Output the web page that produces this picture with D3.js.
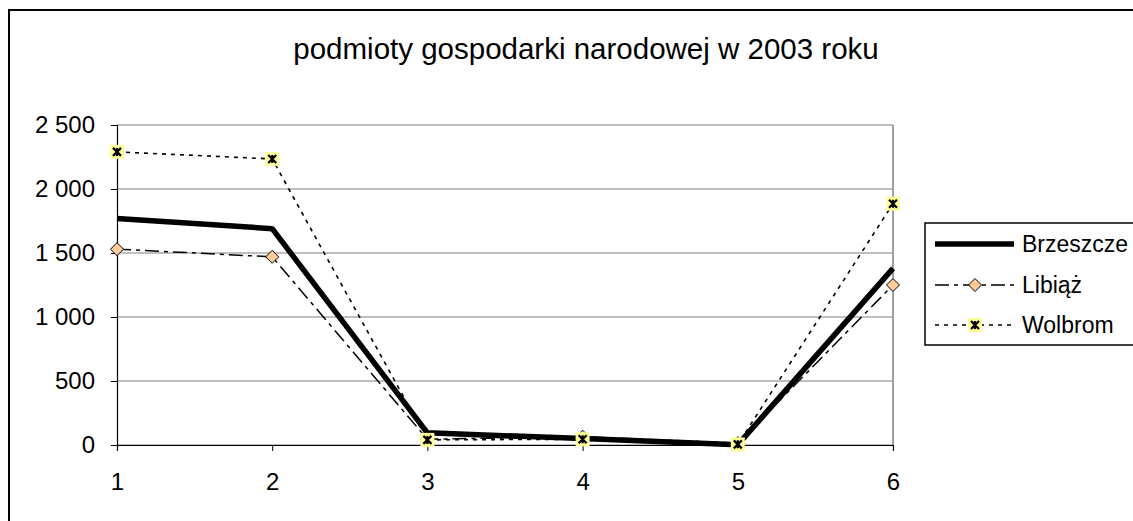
<!DOCTYPE html>
<html>
<head>
<meta charset="utf-8">
<script src="https://cdn.jsdelivr.net/npm/d3@7"></script>
<style>
  body { margin: 0; background: #fff; }
  text { font-family: "Liberation Sans", Arial, sans-serif; fill: #000; }
</style>
</head>
<body>
<div class="chart"></div>
<script>
var svgWidth = 1133;
var svgHeight = 521;

// chart data
var categories = [1, 2, 3, 4, 5, 6];
var brzeszcze = [1770, 1690, 95, 50, 2, 1380];
var libiaz = [1530, 1470, 45, 65, 15, 1250];
var wolbrom = [2290, 2235, 40, 45, 5, 1885];
var yTicks = [0, 500, 1000, 1500, 2000, 2500];
var seriesNames = ["Brzeszcze", "Libiąż", "Wolbrom"];

var plot = { left: 117, right: 893, top: 125, bottom: 445 };

var svg = d3.select(".chart")
  .append("svg")
  .attr("width", svgWidth)
  .attr("height", svgHeight);

// outer chart frame
svg.append("rect")
  .attr("x", 9)
  .attr("y", 10)
  .attr("width", svgWidth + 20)
  .attr("height", svgHeight + 20)
  .attr("fill", "#fff")
  .attr("stroke", "#000")
  .attr("stroke-width", 2);

svg.append("text")
  .attr("x", 586)
  .attr("y", 59)
  .attr("text-anchor", "middle")
  .style("font-size", "29.5px")
  .text("podmioty gospodarki narodowej w 2003 roku");

var xScale = d3.scalePoint()
  .domain(categories)
  .range([plot.left, plot.right]);

var yScale = d3.scaleLinear()
  .domain([0, 2500])
  .range([plot.bottom, plot.top]);

var fmt = function(d) {
  return d3.format(",")(d).replace(",", " ");
};

// gridlines
svg.append("g")
  .selectAll("line")
  .data(yTicks)
  .enter().append("line")
    .attr("x1", plot.left)
    .attr("x2", plot.right)
    .attr("y1", function(d) { return yScale(d); })
    .attr("y2", function(d) { return yScale(d); })
    .attr("stroke", "#808080")
    .attr("stroke-width", 1.2);

svg.append("line")
  .attr("x1", plot.right)
  .attr("x2", plot.right)
  .attr("y1", plot.top)
  .attr("y2", plot.bottom)
  .attr("stroke", "#808080")
  .attr("stroke-width", 1.5);

var leftAxis = d3.axisLeft(yScale)
  .tickValues(yTicks)
  .tickFormat(fmt)
  .tickSize(6)
  .tickPadding(16);

var bottomAxis = d3.axisBottom(xScale)
  .tickSize(6)
  .tickPadding(22);

var gy = svg.append("g")
  .attr("transform", "translate(" + plot.left + ",0)")
  .call(leftAxis);

var gx = svg.append("g")
  .attr("transform", "translate(0," + plot.bottom + ")")
  .call(bottomAxis);

[gx, gy].forEach(function(g) {
  g.select(".domain").attr("stroke", "#000").attr("stroke-width", 1.2);
  g.selectAll(".tick line").attr("stroke", "#000");
  g.selectAll("text")
    .style("font-size", "24px")
    .style("font-family", "'Liberation Sans', Arial, sans-serif")
    .attr("fill", "#000");
});

var line = d3.line()
  .x(function(d, i) { return xScale(categories[i]); })
  .y(function(d) { return yScale(d); });

svg.append("path")
  .datum(brzeszcze)
  .attr("d", line)
  .attr("fill", "none")
  .attr("stroke", "#000")
  .attr("stroke-width", 5.5)
  .attr("stroke-linejoin", "bevel");

svg.append("path")
  .datum(libiaz)
  .attr("d", line)
  .attr("fill", "none")
  .attr("stroke", "#000")
  .attr("stroke-width", 1.5)
  .attr("stroke-dasharray", "14,5,4,5");

svg.append("path")
  .datum(wolbrom)
  .attr("d", line)
  .attr("fill", "none")
  .attr("stroke", "#000")
  .attr("stroke-width", 1.6)
  .attr("stroke-dasharray", "4,5");

function diamond(sel) {
  sel.append("path")
    .attr("d", "M0,-6.5L6.5,0L0,6.5L-6.5,0Z")
    .attr("fill", "#FFCC99")
    .attr("stroke", "#000")
    .attr("stroke-width", 1);
}

function star(sel) {
  sel.append("rect")
    .attr("x", -7).attr("y", -7)
    .attr("width", 14).attr("height", 14)
    .attr("fill", "#FFFF99");
  sel.append("path")
    .attr("d", "M-4,-4L4,4M4,-4L-4,4M0,-4L0,4")
    .attr("stroke", "#000")
    .attr("stroke-width", 2.2);
}

svg.append("g")
  .selectAll("g")
  .data(libiaz)
  .enter().append("g")
    .attr("transform", function(d, i) {
      return "translate(" + xScale(categories[i]) + "," + yScale(d) + ")";
    })
    .call(diamond);

svg.append("g")
  .selectAll("g")
  .data(wolbrom)
  .enter().append("g")
    .attr("transform", function(d, i) {
      return "translate(" + xScale(categories[i]) + "," + yScale(d) + ")";
    })
    .call(star);

// legend
var legend = svg.append("g");

legend.append("rect")
  .attr("x", 925)
  .attr("y", 223)
  .attr("width", 230)
  .attr("height", 122)
  .attr("fill", "#fff")
  .attr("stroke", "#000")
  .attr("stroke-width", 1.5);

var rowY = [244, 285, 325];
var styles = [
  { w: 5.5, dash: null },
  { w: 1.5, dash: "14,5,4,5" },
  { w: 1.6, dash: "4,5" }
];

var rows = legend.selectAll(".row")
  .data(seriesNames)
  .enter().append("g")
    .attr("class", "row")
    .attr("transform", function(d, i) { return "translate(0," + rowY[i] + ")"; });

rows.append("line")
  .attr("x1", 935)
  .attr("x2", 1014)
  .attr("stroke", "#000")
  .attr("stroke-width", function(d, i) { return styles[i].w; })
  .attr("stroke-dasharray", function(d, i) { return styles[i].dash; });

rows.filter(function(d, i) { return i === 1; })
  .append("g")
  .attr("transform", "translate(975,0)")
  .call(diamond);

rows.filter(function(d, i) { return i === 2; })
  .append("g")
  .attr("transform", "translate(975,0)")
  .call(star);

rows.append("text")
  .attr("x", 1022)
  .attr("dy", "0.35em")
  .style("font-size", "23px")
  .text(function(d) { return d; });
</script>
</body>
</html>
